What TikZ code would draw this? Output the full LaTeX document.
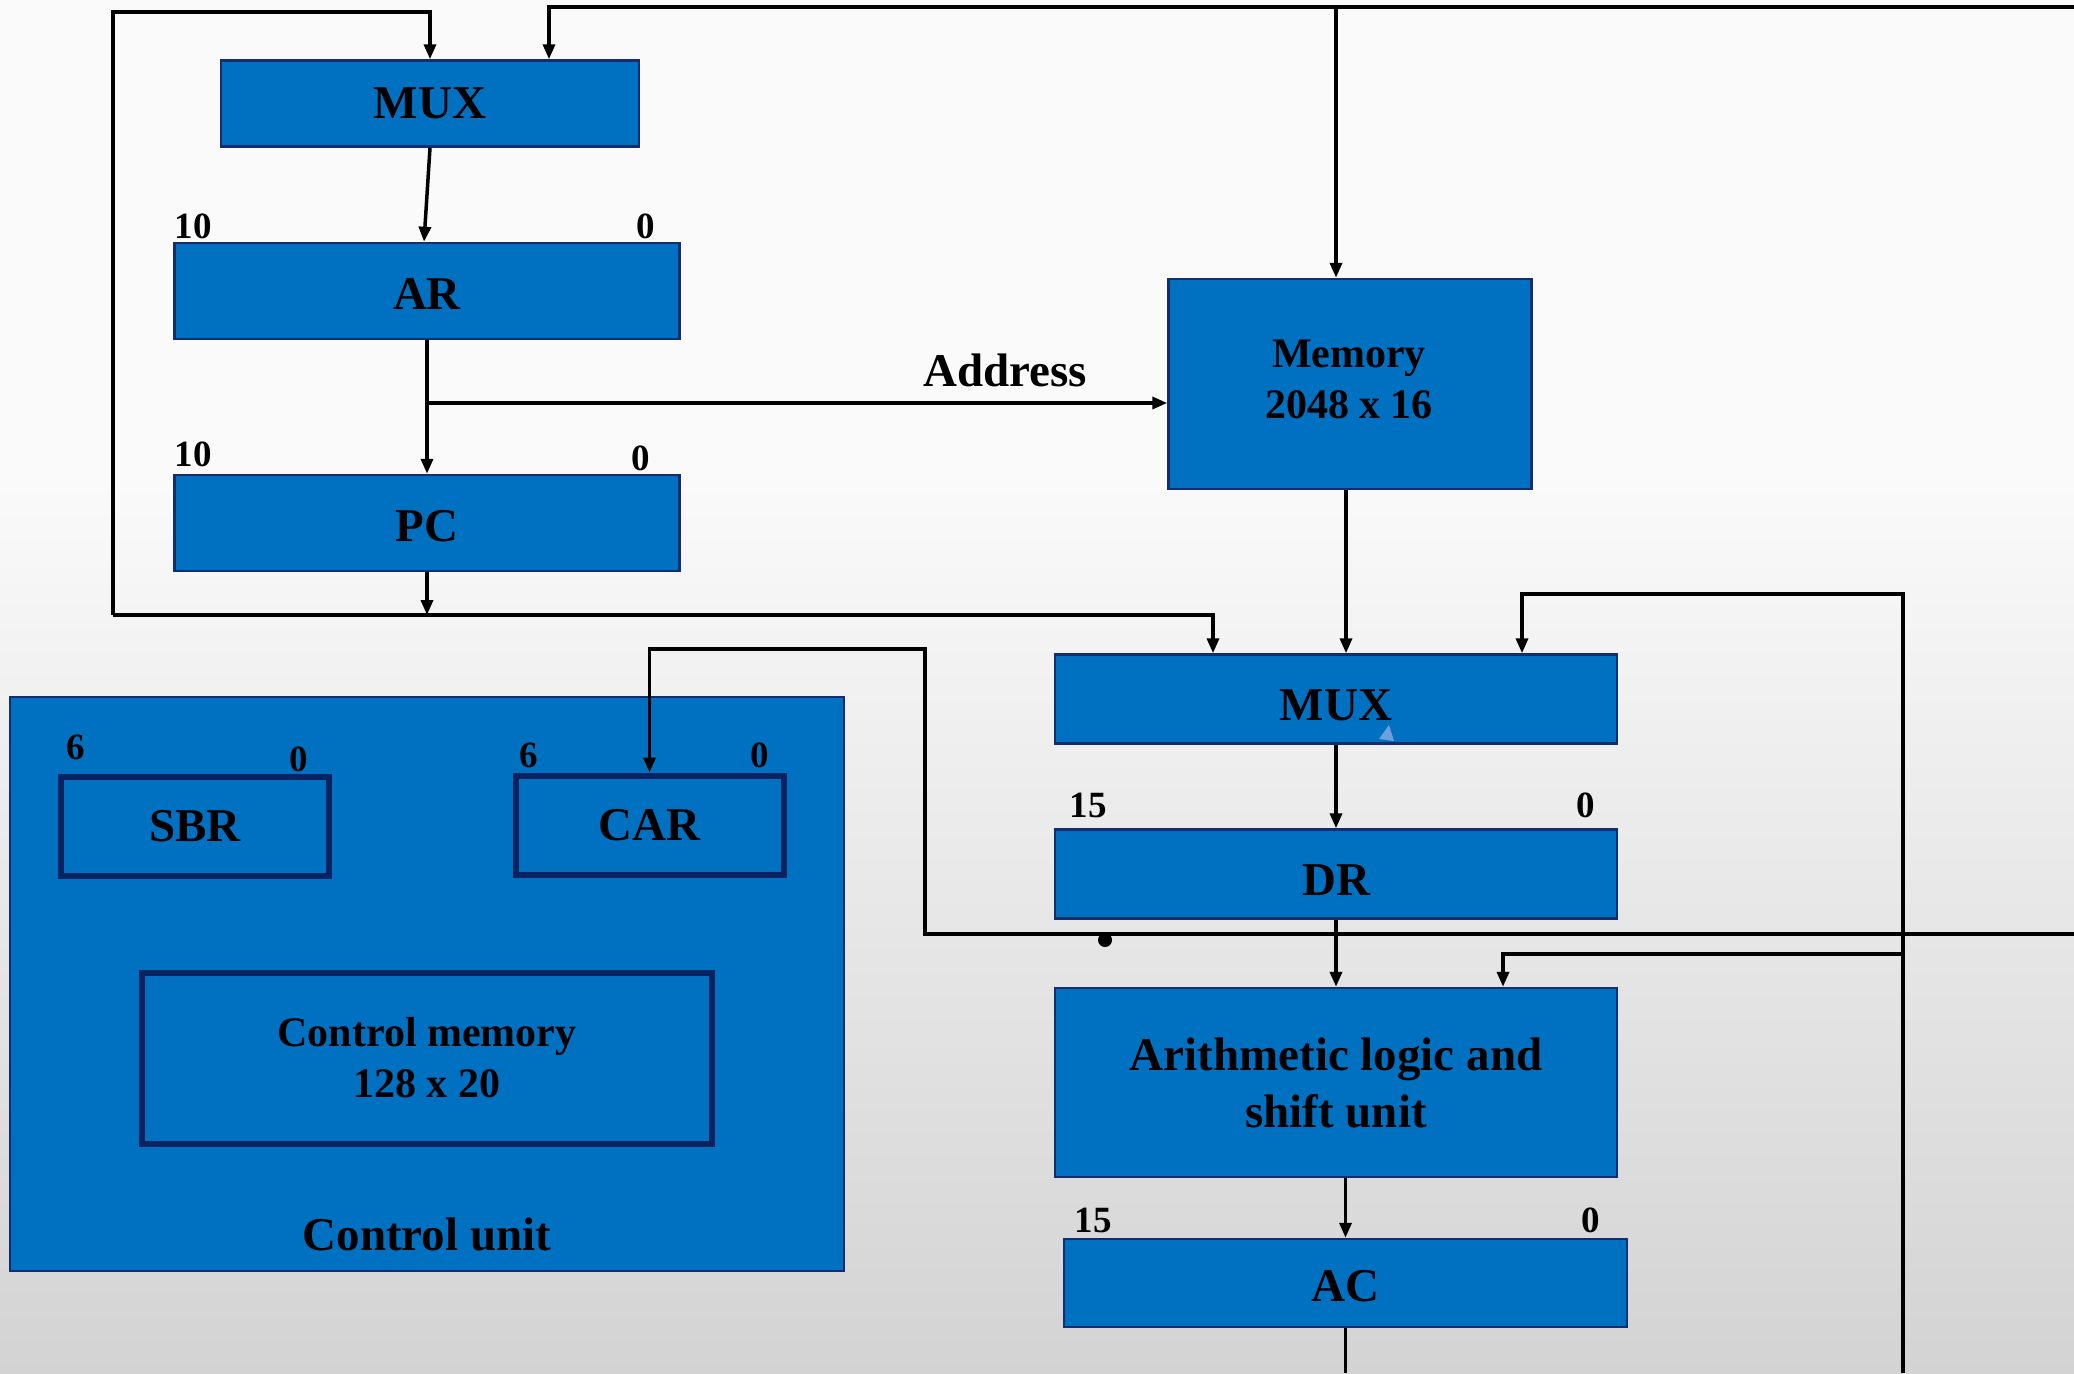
\documentclass[tikz,border=0pt]{standalone}
\usepackage{fontspec}
\setmainfont{Liberation Serif}
\usetikzlibrary{arrows.meta}

\definecolor{boxblue}{RGB}{0,112,192}
\definecolor{boxedge}{RGB}{20,45,110}
\definecolor{darkedge}{RGB}{8,34,98}
\definecolor{bgtop}{RGB}{250,250,250}
\definecolor{bgbot}{RGB}{211,211,211}
\definecolor{glint}{RGB}{110,160,220}

\newcommand\regfont{\fontsize{47}{57}\selectfont\bfseries}
\newcommand\memfont{\fontsize{42}{51}\selectfont\bfseries}
\newcommand\bitfont{\fontsize{37}{40}\selectfont\bfseries}

\begin{document}
\begin{tikzpicture}[
  x=1pt, y=-1pt,
  regbox/.style={draw=boxedge, line width=2.5pt, fill=boxblue, inner sep=0pt, align=center, font=\regfont},
  cubox/.style={draw=darkedge, line width=6pt, fill=boxblue, inner sep=0pt, align=center},
  bitno/.style={inner sep=0pt, font=\bitfont},
  wire/.style={line width=3.5pt},
  >={Triangle[length=15pt,width=12pt]}
]
\useasboundingbox (0,0) rectangle (2074,1373);

% background
\fill[bgtop] (0,0) rectangle (2074,480);
\shade[top color=bgtop, bottom color=bgbot] (0,480) rectangle (2074,1373);

% address side
\node[regbox, minimum width=418pt, minimum height=86pt] (mux1) at (430,103.5) {MUX};
\node[regbox, text height=37pt, minimum width=505pt, minimum height=96pt] (ar) at (427,291) {AR};
\node[regbox, text height=37pt, minimum width=505pt, minimum height=96pt] (pc) at (427,523) {PC};
\node[bitno] (arhi) at (193,226) {10};
\node[bitno] (arlo) at (646,226) {0};
\node[bitno] (pchi) at (193,454) {10};
\node[bitno] (pclo) at (641,458) {0};

% memory
\node[regbox, font=\memfont, minimum width=363pt, minimum height=210pt] (mem) at (1350,384) {};
\node[font=\memfont, align=center, inner sep=0pt] (memtxt) at (1349,379) {Memory\\2048 x 16};
\node[font=\regfont, inner sep=0pt] (addrlbl) at (1005,370) {Address};

% data path
\node[regbox, text height=44pt, minimum width=562pt, minimum height=89pt] (mux2) at (1336,699) {MUX};
\node[regbox, text height=44pt, minimum width=562pt, minimum height=89pt] (dr) at (1336,874) {DR};
\node[regbox, minimum width=562pt, minimum height=189pt] (alu) at (1336,1082.5)
  {Arithmetic logic and\\shift unit};
\node[regbox, text height=37pt, minimum width=563pt, minimum height=88pt] (ac) at (1345.5,1283) {AC};
\node[bitno] (drhi) at (1088,805) {15};
\node[bitno] (drlo) at (1586,805) {0};
\node[bitno] (achi) at (1093,1220) {15};
\node[bitno] (aclo) at (1591,1220) {0};
\fill[glint] (1379,739) -- (1389,725) -- (1394,741) -- cycle;

% control unit
\node[regbox, minimum width=834pt, minimum height=574pt] (cu) at (427,984) {};
\node[cubox, font=\regfont, minimum width=268pt, minimum height=99pt] (sbr) at (195,826.5) {SBR};
\node[cubox, font=\regfont, minimum width=268pt, minimum height=99pt] (car) at (649.5,825) {CAR};
\node[cubox, font=\memfont, minimum width=570pt, minimum height=171pt] (cmem) at (427,1058)
  {Control memory\\128 x 20};
\node[font=\regfont, inner sep=0pt] (culbl) at (427,1234) {Control unit};
\node[bitno] (sbrhi) at (76,747) {6};
\node[bitno] (sbrlo) at (298.5,759) {0};
\node[bitno] (carhi) at (529,755) {6};
\node[bitno] (carlo) at (760,755) {0};

% wire corners
\coordinate (lft) at (113,615);
\coordinate (lfttop) at (113,12);
\coordinate (topr) at (2074,7);
\coordinate (memin) at (1336,7);
\coordinate (addr) at (427,403);
\coordinate (rbot) at (1903,1373);
\coordinate (rtop) at (1903,594);
\coordinate (rmid) at (1903,954);
\coordinate (rbus) at (2074,934);
\coordinate (cbend) at (925,934);
\coordinate (cturn) at (925,649);

% connectors
\draw[wire,->] (lft) -- (lfttop) -| (mux1.north);
\draw[wire,->] (topr) -| ([xshift=119pt]mux1.north);
\draw[wire,->] (memin) -- (memin |- mem.north);
\draw[wire,->] (mux1.south) -- ([xshift=-3pt]ar.north);
\draw[wire,->] (ar.south) -- (pc.north);
\draw[wire,->] (addr) -- (addr -| mem.west);
\draw[wire,->] (pc.south) -- (pc.south |- lft);
\draw[wire,->] (lft) -| ([xshift=-123pt]mux2.north);
\draw[wire,->] ([xshift=-4pt]mem.south) -- ([xshift=-4pt]mem.south |- mux2.north);
\draw[wire,->] (rbot) -- (rtop) -| ([xshift=186pt]mux2.north);
\draw[wire,->] (rmid) -| ([xshift=167pt]alu.north);
\draw[wire,->] (rbus) -- (cbend) -- (cturn) -| (car.north);
\draw[wire,->] (mux2.south) -- (dr.north);
\draw[wire,->] (dr.south) -- (alu.north);
\draw[wire,->] (alu.south -| ac.north) -- (ac.north);
\draw[wire] (ac.south) -- (ac.south |- rbot);
\fill (1105,940) circle (7pt);

\end{tikzpicture}
\end{document}
